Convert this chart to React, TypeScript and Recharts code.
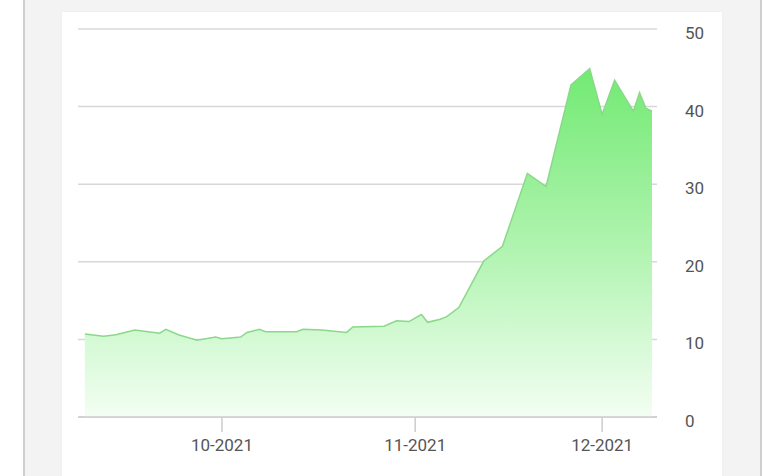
import React from 'react';
import { AreaChart, Area, XAxis, YAxis, CartesianGrid } from 'recharts';

// --- Data ---
const dates = [
  '2021-09-09', '2021-09-12', '2021-09-14', '2021-09-17', '2021-09-21', '2021-09-22',
  '2021-09-24', '2021-09-27', '2021-09-30', '2021-10-01', '2021-10-04', '2021-10-05',
  '2021-10-07', '2021-10-08', '2021-10-13', '2021-10-14', '2021-10-17', '2021-10-21',
  '2021-10-22', '2021-10-27', '2021-10-29', '2021-10-31', '2021-11-02', '2021-11-03',
  '2021-11-05', '2021-11-06', '2021-11-08', '2021-11-12', '2021-11-15', '2021-11-19',
  '2021-11-22', '2021-11-26', '2021-11-29', '2021-12-01', '2021-12-03', '2021-12-06',
  '2021-12-07', '2021-12-08', '2021-12-09',
];
const values = [
  10.7, 10.4, 10.6, 11.2, 10.8, 11.3,
  10.6, 9.9, 10.3, 10.1, 10.3, 10.9,
  11.3, 11.0, 11.0, 11.3, 11.2, 10.9,
  11.6, 11.7, 12.4, 12.3, 13.2, 12.2,
  12.6, 12.9, 14.1, 20.1, 22.0, 31.4,
  29.7, 42.8, 44.9, 39.0, 43.4, 39.4,
  41.8, 39.8, 39.4,
];
const monthTicks = ['2021-10-01', '2021-11-01', '2021-12-01'];
const yTicks = [0, 10, 20, 30, 40, 50];

const DAY = 86400000;
const toTs = (s: string) => new Date(s + 'T00:00:00Z').getTime();

const data = dates.map((d, i) => ({ t: toTs(d), value: values[i] }));
const xTicks = monthTicks.map(toTs);
const xDomain = [toTs(dates[0]) - 1.1 * DAY, toTs(dates[dates.length - 1]) + 0.8 * DAY];

const fmtMonth = (t: number) => {
  const d = new Date(t);
  const m = String(d.getUTCMonth() + 1).padStart(2, '0');
  return `${m}-${d.getUTCFullYear()}`;
};

const tickStyle = { fill: '#555', fontSize: 17, fontFamily: 'Roboto, sans-serif' };

export default function App() {
  return (
    <div style={{ position: 'fixed', left: 0, top: 0, width: 780, height: 476, background: '#fff', overflow: 'hidden' }}>
      {/* page frame */}
      <div
        style={{
          position: 'absolute', left: 23, top: 0, width: 735, height: 476,
          background: '#f3f3f3', borderLeft: '2px solid #cfcfcf', borderRight: '2px solid #cfcfcf',
        }}
      />
      {/* card */}
      <div
        style={{
          position: 'absolute', left: 62, top: 12, width: 660, height: 470,
          background: '#fff', boxShadow: '0 0 2px rgba(0,0,0,0.06)',
        }}
      />
      <div style={{ position: 'absolute', left: 0, top: 0 }}>
        <AreaChart width={780} height={476} data={data} margin={{ top: 29, right: 63, left: 78, bottom: 29 }}>
          <defs>
            <linearGradient id="greenFill" x1="0" y1="0" x2="0" y2="1">
              <stop offset="0%" stopColor="#72ea72" stopOpacity={1} />
              <stop offset="50%" stopColor="#aef3ae" stopOpacity={1} />
              <stop offset="100%" stopColor="#f3fef3" stopOpacity={1} />
            </linearGradient>
          </defs>
          <CartesianGrid vertical={false} stroke="#d8d8d8" strokeWidth={1.5} />
          <XAxis
            dataKey="t"
            type="number"
            scale="time"
            domain={xDomain}
            ticks={xTicks}
            tickFormatter={fmtMonth}
            height={30}
            axisLine={{ stroke: '#cccccc', strokeWidth: 1.5 }}
            tickLine={{ stroke: '#cccccc', strokeWidth: 1.5 }}
            tickSize={15}
            tickMargin={5}
            tick={{ ...tickStyle, dy: 2 }}
          />
          <YAxis
            orientation="right"
            type="number"
            domain={[0, 50]}
            ticks={yTicks}
            width={60}
            axisLine={false}
            tickLine={false}
            tickMargin={22}
            tick={{ ...tickStyle, textAnchor: 'start', dy: 4 }}
          />
          <Area
            type="linear"
            dataKey="value"
            stroke="#8ad88a"
            strokeWidth={1.5}
            fill="url(#greenFill)"
            fillOpacity={1}
            isAnimationActive={false}
          />
        </AreaChart>
      </div>
    </div>
  );
}
